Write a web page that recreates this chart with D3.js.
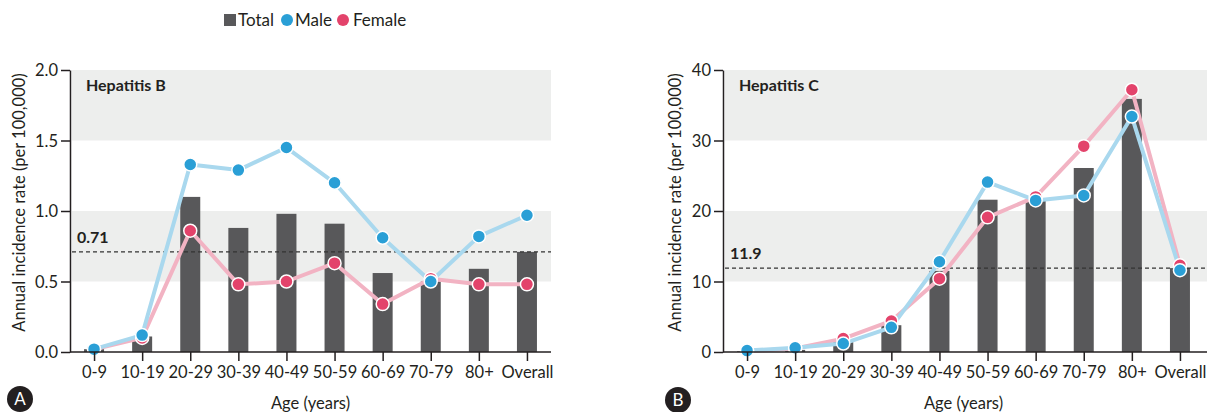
<!DOCTYPE html>
<html><head><meta charset="utf-8">
<script src="https://cdn.jsdelivr.net/npm/d3@7"></script>
<style>
html,body{margin:0;padding:0;background:#fff;}
svg{display:block;font-family:Lato,"Noto Sans",sans-serif;}
</style></head>
<body><svg id="c" width="1207" height="412"></svg>
<script>
const categories = ["0-9","10-19","20-29","30-39","40-49","50-59","60-69","70-79","80+","Overall"];

const hepB_total  = [0.02,0.11,1.10,0.88,0.98,0.91,0.56,0.50,0.59,0.71];
const hepB_male   = [0.02,0.12,1.33,1.29,1.45,1.20,0.81,0.50,0.82,0.97];
const hepB_female = [0.02,0.10,0.86,0.48,0.50,0.63,0.34,0.52,0.48,0.48];
const hepB_overall = 0.71;
const hepB_ticks = [0,0.5,1.0,1.5,2.0];

const hepC_total  = [0.1,0.3,1.4,3.8,11.5,21.6,21.7,26.1,35.9,11.9];
const hepC_male   = [0.2,0.6,1.2,3.5,12.8,24.1,21.5,22.2,33.4,11.6];
const hepC_female = [0.1,0.5,1.9,4.4,10.4,19.1,22.0,29.2,37.2,12.3];
const hepC_overall = 11.9;
const hepC_ticks = [0,10,20,30,40];

const svg = d3.select("#c");
const C = {bar:"#58585a", maleLine:"#a9d8ee", malePt:"#2a9fd6", femLine:"#f2b3c3", femPt:"#e3436b", band:"#edeeed", axis:"#231f20", text:"#231f20"};

function panel(o){
  const x = d3.scalePoint().domain(categories).range([o.x0, o.x1]).padding(0.5);
  const y = d3.scaleLinear().domain([0, o.max]).range([352, 70]);
  const g = svg.append("g");
  o.bands.forEach(b=>{
    g.append("rect").attr("x", o.x0+2).attr("width", o.bandEnd-(o.x0+2))
      .attr("y", y(b[1])).attr("height", y(b[0])-y(b[1])).attr("fill", C.band);
  });
  g.append("text").attr("x", o.x0+16).attr("y", 91).attr("font-size",16).attr("font-weight","bold")
    .attr("fill",C.text).text(o.title);
  g.selectAll(".bar").data(o.total).join("rect")
    .attr("x",(d,i)=>x(categories[i])-10).attr("width",20)
    .attr("y",d=>y(d)).attr("height",d=>y(0)-y(d)).attr("fill",C.bar);
  g.append("line").attr("x1",o.x0+2).attr("x2",o.bandEnd).attr("y1",y(o.overall)).attr("y2",y(o.overall))
    .attr("stroke","#333").attr("stroke-width",1.2).attr("stroke-dasharray","4,3");
  g.append("text").attr("x",o.x0+7).attr("y",y(o.overall)-9).attr("font-size",16).attr("font-weight","bold")
    .attr("fill",C.text).text(o.overallLabel);
  const line = d3.line().x((d,i)=>x(categories[i])).y(d=>y(d));
  g.append("path").datum(o.female).attr("d",line).attr("fill","none").attr("stroke",C.femLine).attr("stroke-width",4).attr("stroke-linejoin","round");
  g.append("path").datum(o.male).attr("d",line).attr("fill","none").attr("stroke",C.maleLine).attr("stroke-width",4).attr("stroke-linejoin","round");
  g.selectAll(".fp").data(o.female).join("circle").attr("cx",(d,i)=>x(categories[i])).attr("cy",d=>y(d))
    .attr("r",6.5).attr("fill",C.femPt).attr("stroke","#fff").attr("stroke-width",1.5);
  g.selectAll(".mp").data(o.male).join("circle").attr("cx",(d,i)=>x(categories[i])).attr("cy",d=>y(d))
    .attr("r",6.5).attr("fill",C.malePt).attr("stroke","#fff").attr("stroke-width",1.5);
  const ya = g.append("g").attr("transform",`translate(${o.x0},0)`)
    .call(d3.axisLeft(y).tickValues(o.ticks).tickFormat(o.fmt).tickSize(9).tickSizeOuter(0));
  const xa = g.append("g").attr("transform",`translate(0,352)`)
    .call(d3.axisBottom(x).tickSize(9).tickSizeOuter(0));
  [ya,xa].forEach(a=>{
    a.select(".domain").attr("stroke",C.axis).attr("stroke-width",1.5);
    a.selectAll(".tick line").attr("stroke",C.axis).attr("stroke-width",1.5);
    a.selectAll(".tick text").attr("fill",C.text).attr("font-size",16.5).attr("font-family","Lato,sans-serif");
  });
  ya.selectAll(".tick text").attr("x",-12).attr("dy","0.35em");
  xa.selectAll(".tick text").attr("y",14).attr("dy","0.71em");
  xa.select(".domain").attr("d",`M${o.x0},0H${o.bandEnd}`);
  g.append("text").attr("transform",`translate(${o.yTitleX},${(66+339)/2}) rotate(-90)`).attr("text-anchor","middle")
    .attr("font-size",16.5).attr("fill",C.text).text("Annual incidence rate (per 100,000)");
  g.append("text").attr("x",(o.x0+o.x1)/2).attr("y",409).attr("text-anchor","middle")
    .attr("font-size",16.5).attr("fill",C.text).text("Age (years)");
  g.append("circle").attr("cx",o.lx).attr("cy",o.ly).attr("r",13).attr("fill","#231f20");
  g.append("text").attr("x",o.lx).attr("y",o.ly+6).attr("text-anchor","middle").attr("font-size",17)
    .attr("fill","#fff").text(o.letter);
}

panel({x0:70,x1:551,bandEnd:551,max:2.0,bands:[[0.5,1.0],[1.5,2.0]],title:"Hepatitis B",
  total:hepB_total,male:hepB_male,female:hepB_female,overall:hepB_overall,overallLabel:"0.71",
  ticks:hepB_ticks,fmt:d3.format(".1f"),yTitleX:25,letter:"A",lx:20,ly:399});
panel({x0:723,x1:1204,bandEnd:1207,max:40,bands:[[10,20],[30,40]],title:"Hepatitis C",
  total:hepC_total,male:hepC_male,female:hepC_female,overall:hepC_overall,overallLabel:"11.9",
  ticks:hepC_ticks,fmt:d3.format("d"),yTitleX:681,letter:"B",lx:678,ly:400});

const lg = svg.append("g").attr("font-size",17).attr("fill",C.text);
lg.append("rect").attr("x",224).attr("y",14).attr("width",12).attr("height",12).attr("fill",C.bar);
lg.append("text").attr("x",238).attr("y",26).text("Total");
lg.append("circle").attr("cx",287).attr("cy",20).attr("r",6).attr("fill",C.malePt);
lg.append("text").attr("x",295).attr("y",26).text("Male");
lg.append("circle").attr("cx",343).attr("cy",20).attr("r",6).attr("fill",C.femPt);
lg.append("text").attr("x",353).attr("y",26).text("Female");
</script></body></html>
